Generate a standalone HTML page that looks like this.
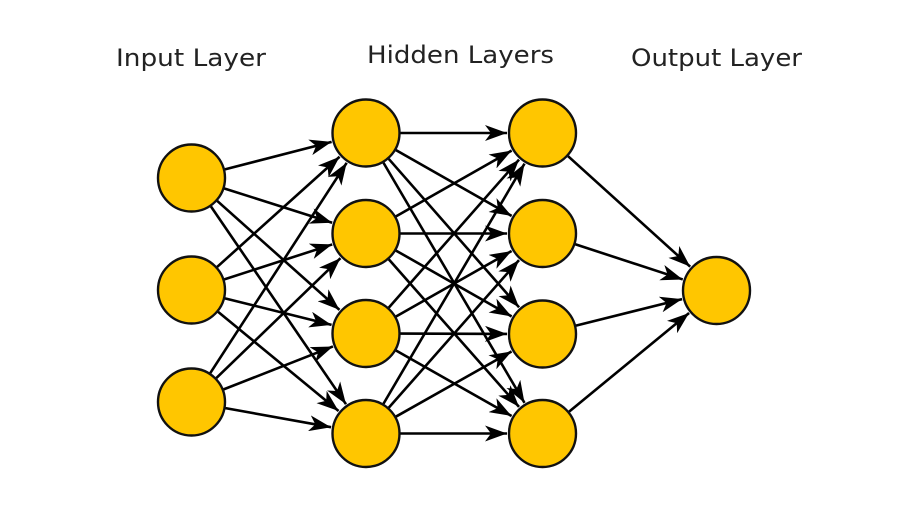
<!DOCTYPE html>
<html><head><meta charset="utf-8"><style>
html,body{margin:0;padding:0;background:#fff;width:920px;height:510px;overflow:hidden}
text{font-family:"DejaVu Sans","Liberation Sans",sans-serif;font-size:24px;fill:#222}
</style></head><body>
<svg id="s" width="920" height="510" viewBox="0 0 920 510" xmlns="http://www.w3.org/2000/svg">
<defs><marker id="a" markerWidth="22" markerHeight="16" refX="22" refY="8" orient="auto" markerUnits="userSpaceOnUse"><path d="M0,0 L22,8 L0,16 L6,8 Z" fill="#000"/></marker></defs>
<text x="116" y="66" textLength="150" lengthAdjust="spacingAndGlyphs">Input Layer</text>
<text x="367" y="63" textLength="187" lengthAdjust="spacingAndGlyphs">Hidden Layers</text>
<text x="631" y="66" textLength="171" lengthAdjust="spacingAndGlyphs">Output Layer</text>
<g id="lines" stroke="#000" stroke-width="2.6"></g>
<g id="nodes" fill="#FFC600" stroke="#111" stroke-width="2.4"></g>
</svg>
<script>
var L=[[[191.5,178],[191.5,290],[191.5,402]],[[366,133],[366,233.5],[366,333.5],[366,433.5]],[[542.5,133],[542.5,233.5],[542.5,334],[542.5,433.5]],[[716.5,290.5]]];
var r=34.5,ns="http://www.w3.org/2000/svg",lg=document.getElementById('lines'),ng=document.getElementById('nodes');
for(var i=0;i<3;i++)for(var a=0;a<L[i].length;a++)for(var b=0;b<L[i+1].length;b++){
var p=L[i][a],q=L[i+1][b],dx=q[0]-p[0],dy=q[1]-p[1],d=Math.sqrt(dx*dx+dy*dy),ux=dx/d,uy=dy/d;
var l=document.createElementNS(ns,'line');
l.setAttribute('x1',p[0]+ux*r);l.setAttribute('y1',p[1]+uy*r);
l.setAttribute('x2',q[0]-ux*(r+1));l.setAttribute('y2',q[1]-uy*(r+1));
l.setAttribute('marker-end','url(#a)');lg.appendChild(l);}
L.forEach(function(g){g.forEach(function(p){var c=document.createElementNS(ns,'circle');c.setAttribute('cx',p[0]);c.setAttribute('cy',p[1]);c.setAttribute('r',r-1);ng.appendChild(c);});});
</script>
</body></html>
